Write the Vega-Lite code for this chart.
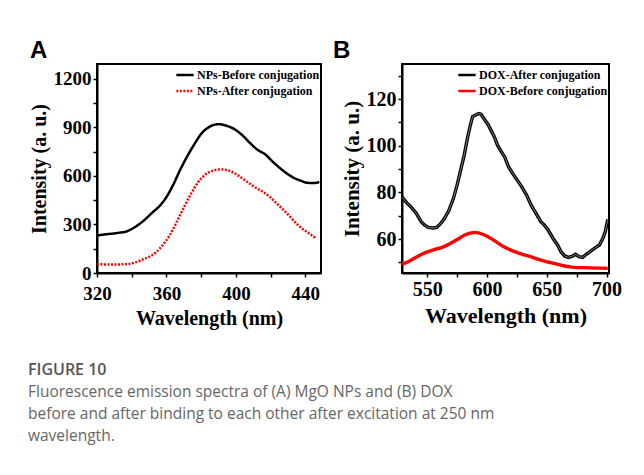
{
  "$schema": "https://vega.github.io/schema/vega-lite/v6.json",
  "background": "white",
  "padding": {"left": 28, "top": 38, "right": 5, "bottom": 5},
  "bounds": "flush",
  "spacing": 81,
  "datasets": {
    "a": [
      {"wl": 320, "val": 232, "series": "NPs-Before conjugation"},
      {"wl": 326, "val": 240, "series": "NPs-Before conjugation"},
      {"wl": 332, "val": 248, "series": "NPs-Before conjugation"},
      {"wl": 337, "val": 257, "series": "NPs-Before conjugation"},
      {"wl": 342, "val": 285, "series": "NPs-Before conjugation"},
      {"wl": 347, "val": 325, "series": "NPs-Before conjugation"},
      {"wl": 352, "val": 375, "series": "NPs-Before conjugation"},
      {"wl": 356, "val": 414, "series": "NPs-Before conjugation"},
      {"wl": 360, "val": 470, "series": "NPs-Before conjugation"},
      {"wl": 364, "val": 548, "series": "NPs-Before conjugation"},
      {"wl": 368, "val": 640, "series": "NPs-Before conjugation"},
      {"wl": 372, "val": 722, "series": "NPs-Before conjugation"},
      {"wl": 376, "val": 795, "series": "NPs-Before conjugation"},
      {"wl": 380, "val": 860, "series": "NPs-Before conjugation"},
      {"wl": 385, "val": 905, "series": "NPs-Before conjugation"},
      {"wl": 390, "val": 920, "series": "NPs-Before conjugation"},
      {"wl": 394, "val": 912, "series": "NPs-Before conjugation"},
      {"wl": 398, "val": 896, "series": "NPs-Before conjugation"},
      {"wl": 403, "val": 858, "series": "NPs-Before conjugation"},
      {"wl": 408, "val": 805, "series": "NPs-Before conjugation"},
      {"wl": 412, "val": 765, "series": "NPs-Before conjugation"},
      {"wl": 417, "val": 732, "series": "NPs-Before conjugation"},
      {"wl": 421, "val": 690, "series": "NPs-Before conjugation"},
      {"wl": 425, "val": 652, "series": "NPs-Before conjugation"},
      {"wl": 429, "val": 618, "series": "NPs-Before conjugation"},
      {"wl": 433, "val": 590, "series": "NPs-Before conjugation"},
      {"wl": 437, "val": 572, "series": "NPs-Before conjugation"},
      {"wl": 441, "val": 558, "series": "NPs-Before conjugation"},
      {"wl": 445, "val": 556, "series": "NPs-Before conjugation"},
      {"wl": 448, "val": 563, "series": "NPs-Before conjugation"},
      {"wl": 320, "val": 55, "series": "NPs-After conjugation"},
      {"wl": 326, "val": 53, "series": "NPs-After conjugation"},
      {"wl": 332, "val": 53, "series": "NPs-After conjugation"},
      {"wl": 337, "val": 55, "series": "NPs-After conjugation"},
      {"wl": 342, "val": 65, "series": "NPs-After conjugation"},
      {"wl": 346, "val": 82, "series": "NPs-After conjugation"},
      {"wl": 350, "val": 100, "series": "NPs-After conjugation"},
      {"wl": 354, "val": 128, "series": "NPs-After conjugation"},
      {"wl": 358, "val": 175, "series": "NPs-After conjugation"},
      {"wl": 362, "val": 235, "series": "NPs-After conjugation"},
      {"wl": 366, "val": 318, "series": "NPs-After conjugation"},
      {"wl": 370, "val": 405, "series": "NPs-After conjugation"},
      {"wl": 374, "val": 487, "series": "NPs-After conjugation"},
      {"wl": 378, "val": 558, "series": "NPs-After conjugation"},
      {"wl": 382, "val": 605, "series": "NPs-After conjugation"},
      {"wl": 386, "val": 630, "series": "NPs-After conjugation"},
      {"wl": 391, "val": 640, "series": "NPs-After conjugation"},
      {"wl": 395, "val": 636, "series": "NPs-After conjugation"},
      {"wl": 399, "val": 618, "series": "NPs-After conjugation"},
      {"wl": 403, "val": 590, "series": "NPs-After conjugation"},
      {"wl": 407, "val": 560, "series": "NPs-After conjugation"},
      {"wl": 411, "val": 530, "series": "NPs-After conjugation"},
      {"wl": 415, "val": 505, "series": "NPs-After conjugation"},
      {"wl": 419, "val": 475, "series": "NPs-After conjugation"},
      {"wl": 423, "val": 435, "series": "NPs-After conjugation"},
      {"wl": 427, "val": 395, "series": "NPs-After conjugation"},
      {"wl": 431, "val": 350, "series": "NPs-After conjugation"},
      {"wl": 435, "val": 305, "series": "NPs-After conjugation"},
      {"wl": 439, "val": 268, "series": "NPs-After conjugation"},
      {"wl": 443, "val": 238, "series": "NPs-After conjugation"},
      {"wl": 446, "val": 215, "series": "NPs-After conjugation"}
    ],
    "b": [
      {"wl": 529, "val": 78, "series": "DOX-After conjugation"},
      {"wl": 533, "val": 75.5, "series": "DOX-After conjugation"},
      {"wl": 537, "val": 73.5, "series": "DOX-After conjugation"},
      {"wl": 541, "val": 71, "series": "DOX-After conjugation"},
      {"wl": 545, "val": 67.5, "series": "DOX-After conjugation"},
      {"wl": 548, "val": 66, "series": "DOX-After conjugation"},
      {"wl": 551, "val": 65, "series": "DOX-After conjugation"},
      {"wl": 555, "val": 64.8, "series": "DOX-After conjugation"},
      {"wl": 558, "val": 65, "series": "DOX-After conjugation"},
      {"wl": 561, "val": 66.5, "series": "DOX-After conjugation"},
      {"wl": 564, "val": 68.5, "series": "DOX-After conjugation"},
      {"wl": 568, "val": 72, "series": "DOX-After conjugation"},
      {"wl": 572, "val": 77.5, "series": "DOX-After conjugation"},
      {"wl": 575, "val": 83, "series": "DOX-After conjugation"},
      {"wl": 578, "val": 89.5, "series": "DOX-After conjugation"},
      {"wl": 581, "val": 96, "series": "DOX-After conjugation"},
      {"wl": 584, "val": 104, "series": "DOX-After conjugation"},
      {"wl": 586, "val": 108.5, "series": "DOX-After conjugation"},
      {"wl": 588, "val": 112.5, "series": "DOX-After conjugation"},
      {"wl": 591, "val": 113.3, "series": "DOX-After conjugation"},
      {"wl": 593, "val": 113.8, "series": "DOX-After conjugation"},
      {"wl": 595, "val": 113.5, "series": "DOX-After conjugation"},
      {"wl": 597, "val": 112, "series": "DOX-After conjugation"},
      {"wl": 599, "val": 110.5, "series": "DOX-After conjugation"},
      {"wl": 601, "val": 109, "series": "DOX-After conjugation"},
      {"wl": 603, "val": 107, "series": "DOX-After conjugation"},
      {"wl": 606, "val": 104, "series": "DOX-After conjugation"},
      {"wl": 609, "val": 100, "series": "DOX-After conjugation"},
      {"wl": 612, "val": 97.5, "series": "DOX-After conjugation"},
      {"wl": 615, "val": 95, "series": "DOX-After conjugation"},
      {"wl": 618, "val": 91, "series": "DOX-After conjugation"},
      {"wl": 621, "val": 88.5, "series": "DOX-After conjugation"},
      {"wl": 625, "val": 85.5, "series": "DOX-After conjugation"},
      {"wl": 629, "val": 82.5, "series": "DOX-After conjugation"},
      {"wl": 633, "val": 79, "series": "DOX-After conjugation"},
      {"wl": 637, "val": 74.5, "series": "DOX-After conjugation"},
      {"wl": 641, "val": 71, "series": "DOX-After conjugation"},
      {"wl": 645, "val": 67.5, "series": "DOX-After conjugation"},
      {"wl": 648, "val": 66, "series": "DOX-After conjugation"},
      {"wl": 651, "val": 64, "series": "DOX-After conjugation"},
      {"wl": 655, "val": 60.5, "series": "DOX-After conjugation"},
      {"wl": 659, "val": 57.5, "series": "DOX-After conjugation"},
      {"wl": 662, "val": 54.5, "series": "DOX-After conjugation"},
      {"wl": 665, "val": 52.8, "series": "DOX-After conjugation"},
      {"wl": 668, "val": 52.2, "series": "DOX-After conjugation"},
      {"wl": 671, "val": 52.6, "series": "DOX-After conjugation"},
      {"wl": 674, "val": 53.5, "series": "DOX-After conjugation"},
      {"wl": 677, "val": 52.5, "series": "DOX-After conjugation"},
      {"wl": 680, "val": 52.2, "series": "DOX-After conjugation"},
      {"wl": 683, "val": 53.5, "series": "DOX-After conjugation"},
      {"wl": 687, "val": 55, "series": "DOX-After conjugation"},
      {"wl": 691, "val": 56.5, "series": "DOX-After conjugation"},
      {"wl": 694, "val": 57.5, "series": "DOX-After conjugation"},
      {"wl": 697, "val": 60.5, "series": "DOX-After conjugation"},
      {"wl": 699, "val": 63.5, "series": "DOX-After conjugation"},
      {"wl": 700, "val": 66, "series": "DOX-After conjugation"},
      {"wl": 701, "val": 68.5, "series": "DOX-After conjugation"},
      {"wl": 529, "val": 49.2, "series": "DOX-Before conjugation"},
      {"wl": 535, "val": 50.5, "series": "DOX-Before conjugation"},
      {"wl": 540, "val": 52, "series": "DOX-Before conjugation"},
      {"wl": 545, "val": 53.4, "series": "DOX-Before conjugation"},
      {"wl": 549, "val": 54.3, "series": "DOX-Before conjugation"},
      {"wl": 553, "val": 55, "series": "DOX-Before conjugation"},
      {"wl": 557, "val": 55.7, "series": "DOX-Before conjugation"},
      {"wl": 561, "val": 56.2, "series": "DOX-Before conjugation"},
      {"wl": 565, "val": 57, "series": "DOX-Before conjugation"},
      {"wl": 569, "val": 58, "series": "DOX-Before conjugation"},
      {"wl": 573, "val": 59.2, "series": "DOX-Before conjugation"},
      {"wl": 577, "val": 60.4, "series": "DOX-Before conjugation"},
      {"wl": 581, "val": 61.7, "series": "DOX-Before conjugation"},
      {"wl": 585, "val": 62.5, "series": "DOX-Before conjugation"},
      {"wl": 589, "val": 62.9, "series": "DOX-Before conjugation"},
      {"wl": 593, "val": 62.7, "series": "DOX-Before conjugation"},
      {"wl": 597, "val": 62, "series": "DOX-Before conjugation"},
      {"wl": 601, "val": 61, "series": "DOX-Before conjugation"},
      {"wl": 605, "val": 59.8, "series": "DOX-Before conjugation"},
      {"wl": 609, "val": 58.4, "series": "DOX-Before conjugation"},
      {"wl": 613, "val": 57.1, "series": "DOX-Before conjugation"},
      {"wl": 617, "val": 56, "series": "DOX-Before conjugation"},
      {"wl": 621, "val": 55.1, "series": "DOX-Before conjugation"},
      {"wl": 626, "val": 54.1, "series": "DOX-Before conjugation"},
      {"wl": 631, "val": 53.3, "series": "DOX-Before conjugation"},
      {"wl": 636, "val": 52.6, "series": "DOX-Before conjugation"},
      {"wl": 641, "val": 51.7, "series": "DOX-Before conjugation"},
      {"wl": 646, "val": 50.9, "series": "DOX-Before conjugation"},
      {"wl": 651, "val": 50.2, "series": "DOX-Before conjugation"},
      {"wl": 656, "val": 49.6, "series": "DOX-Before conjugation"},
      {"wl": 661, "val": 49, "series": "DOX-Before conjugation"},
      {"wl": 666, "val": 48.4, "series": "DOX-Before conjugation"},
      {"wl": 671, "val": 48, "series": "DOX-Before conjugation"},
      {"wl": 676, "val": 47.8, "series": "DOX-Before conjugation"},
      {"wl": 681, "val": 47.8, "series": "DOX-Before conjugation"},
      {"wl": 686, "val": 47.7, "series": "DOX-Before conjugation"},
      {"wl": 691, "val": 47.6, "series": "DOX-Before conjugation"},
      {"wl": 696, "val": 47.6, "series": "DOX-Before conjugation"},
      {"wl": 701, "val": 47.5, "series": "DOX-Before conjugation"}
    ]
  },
  "title": {
    "text": "FIGURE 10",
    "subtitle": [
      "Fluorescence emission spectra of (A) MgO NPs and (B) DOX",
      "before and after binding to each other after excitation at 250 nm",
      "wavelength."
    ],
    "orient": "bottom",
    "anchor": "start",
    "frame": "bounds",
    "offset": 33,
    "font": "Open Sans",
    "fontSize": 16,
    "fontWeight": 600,
    "color": "#555555",
    "subtitleFont": "Open Sans",
    "subtitleFontSize": 15.5,
    "subtitleColor": "#666666",
    "subtitleLineHeight": 22,
    "subtitlePadding": 7
  },
  "hconcat": [
    {
      "width": 224,
      "height": 209,
      "title": {"text": "A", "anchor": "start", "frame": "group", "dx": -67, "offset": -23, "baseline": "bottom", "font": "Liberation Sans", "fontSize": 24, "fontWeight": "bold", "color": "black", "orient": "top"},
      "data": {"name": "a"},
      "mark": {"type": "line", "strokeWidth": 2.5, "interpolate": "monotone"},
      "encoding": {
        "x": {"field": "wl", "type": "quantitative", "title": "Wavelength (nm)",
          "scale": {"domain": [320, 449], "nice": false, "zero": false},
          "axis": {"values": [320, 340, 360, 380, 400, 420, 440], "format": "d", "labelExpr": "datum.value % 40 == 0 ? datum.label : ''", "labelPadding": 7, "titlePadding": 5}},
        "y": {"field": "val", "type": "quantitative", "title": "Intensity (a. u.)",
          "scale": {"domain": [0, 1292], "nice": false},
          "axis": {"values": [0, 150, 300, 450, 600, 750, 900, 1050, 1200], "format": "d", "labelExpr": "datum.value % 300 == 0 ? datum.label : ''"}},
        "color": {"field": "series", "type": "nominal",
          "scale": {"domain": ["NPs-Before conjugation", "NPs-After conjugation"], "range": ["#000000", "#ff0000"]},
          "legend": {"title": null}},
        "strokeDash": {"field": "series", "type": "nominal",
          "scale": {"domain": ["NPs-Before conjugation", "NPs-After conjugation"], "range": [[1, 0], [2, 1.5]]},
          "legend": {"title": null}}
      }
    },
    {
      "width": 207,
      "height": 209,
      "title": {"text": "B", "anchor": "start", "frame": "group", "dx": -69, "offset": -23, "baseline": "bottom", "font": "Liberation Sans", "fontSize": 24, "fontWeight": "bold", "color": "black", "orient": "top"},
      "data": {"name": "b"},
      "encoding": {
        "x": {"field": "wl", "type": "quantitative", "title": "Wavelength (nm)",
          "scale": {"domain": [529, 702], "nice": false, "zero": false},
          "axis": {"values": [550, 575, 600, 625, 650, 675, 700], "format": "d", "labelExpr": "datum.value % 50 == 0 ? datum.label : ''", "labelFontSize": 20, "titleFontSize": 22, "titlePadding": 6}},
        "y": {"field": "val", "type": "quantitative", "title": "Intensity (a. u.)",
          "scale": {"domain": [45.5, 135], "nice": false, "zero": false},
          "axis": {"values": [50, 60, 70, 80, 90, 100, 110, 120, 130], "format": "d", "labelExpr": "datum.value % 20 == 0 ? datum.label : ''", "labelFontSize": 20, "titleFontSize": 21}}
      },
      "layer": [
        {
          "mark": {"type": "line", "strokeWidth": 3.4},
          "encoding": {
            "color": {"field": "series", "type": "nominal",
              "scale": {"domain": ["DOX-After conjugation", "DOX-Before conjugation"], "range": ["#000000", "#ff0000"]},
              "legend": {"title": null}}
          }
        },
        {
          "transform": [{"filter": "datum.series == 'DOX-After conjugation'"}],
          "mark": {"type": "line", "strokeWidth": 0.8, "color": "#9a9a9a"},
          "encoding": {}
        }
      ],
      "resolve": {"scale": {"color": "independent"}}
    }
  ],
  "resolve": {"scale": {"color": "independent", "strokeDash": "independent"}, "legend": {"color": "independent"}},
  "config": {
    "view": {"stroke": "black", "strokeWidth": 2},
    "axis": {
      "grid": false,
      "labelFlush": false,
      "domainColor": "black",
      "domainWidth": 2,
      "tickColor": "black",
      "tickWidth": 1.5,
      "tickSize": 4,
      "labelFont": "Liberation Serif",
      "labelFontWeight": "bold",
      "labelFontSize": 19,
      "labelColor": "black",
      "labelPadding": 2,
      "titleFont": "Liberation Serif",
      "titleFontWeight": "bold",
      "titleFontSize": 20,
      "titleColor": "black",
      "titlePadding": 4
    },
    "legend": {
      "orient": "top-right",
      "offset": 1,
      "padding": 0,
      "labelFont": "Liberation Serif",
      "labelFontWeight": "bold",
      "labelFontSize": 12,
      "labelColor": "black",
      "labelOffset": 2,
      "symbolType": "stroke",
      "symbolStrokeWidth": 2.5,
      "symbolSize": 300,
      "rowPadding": 0
    }
  }
}
